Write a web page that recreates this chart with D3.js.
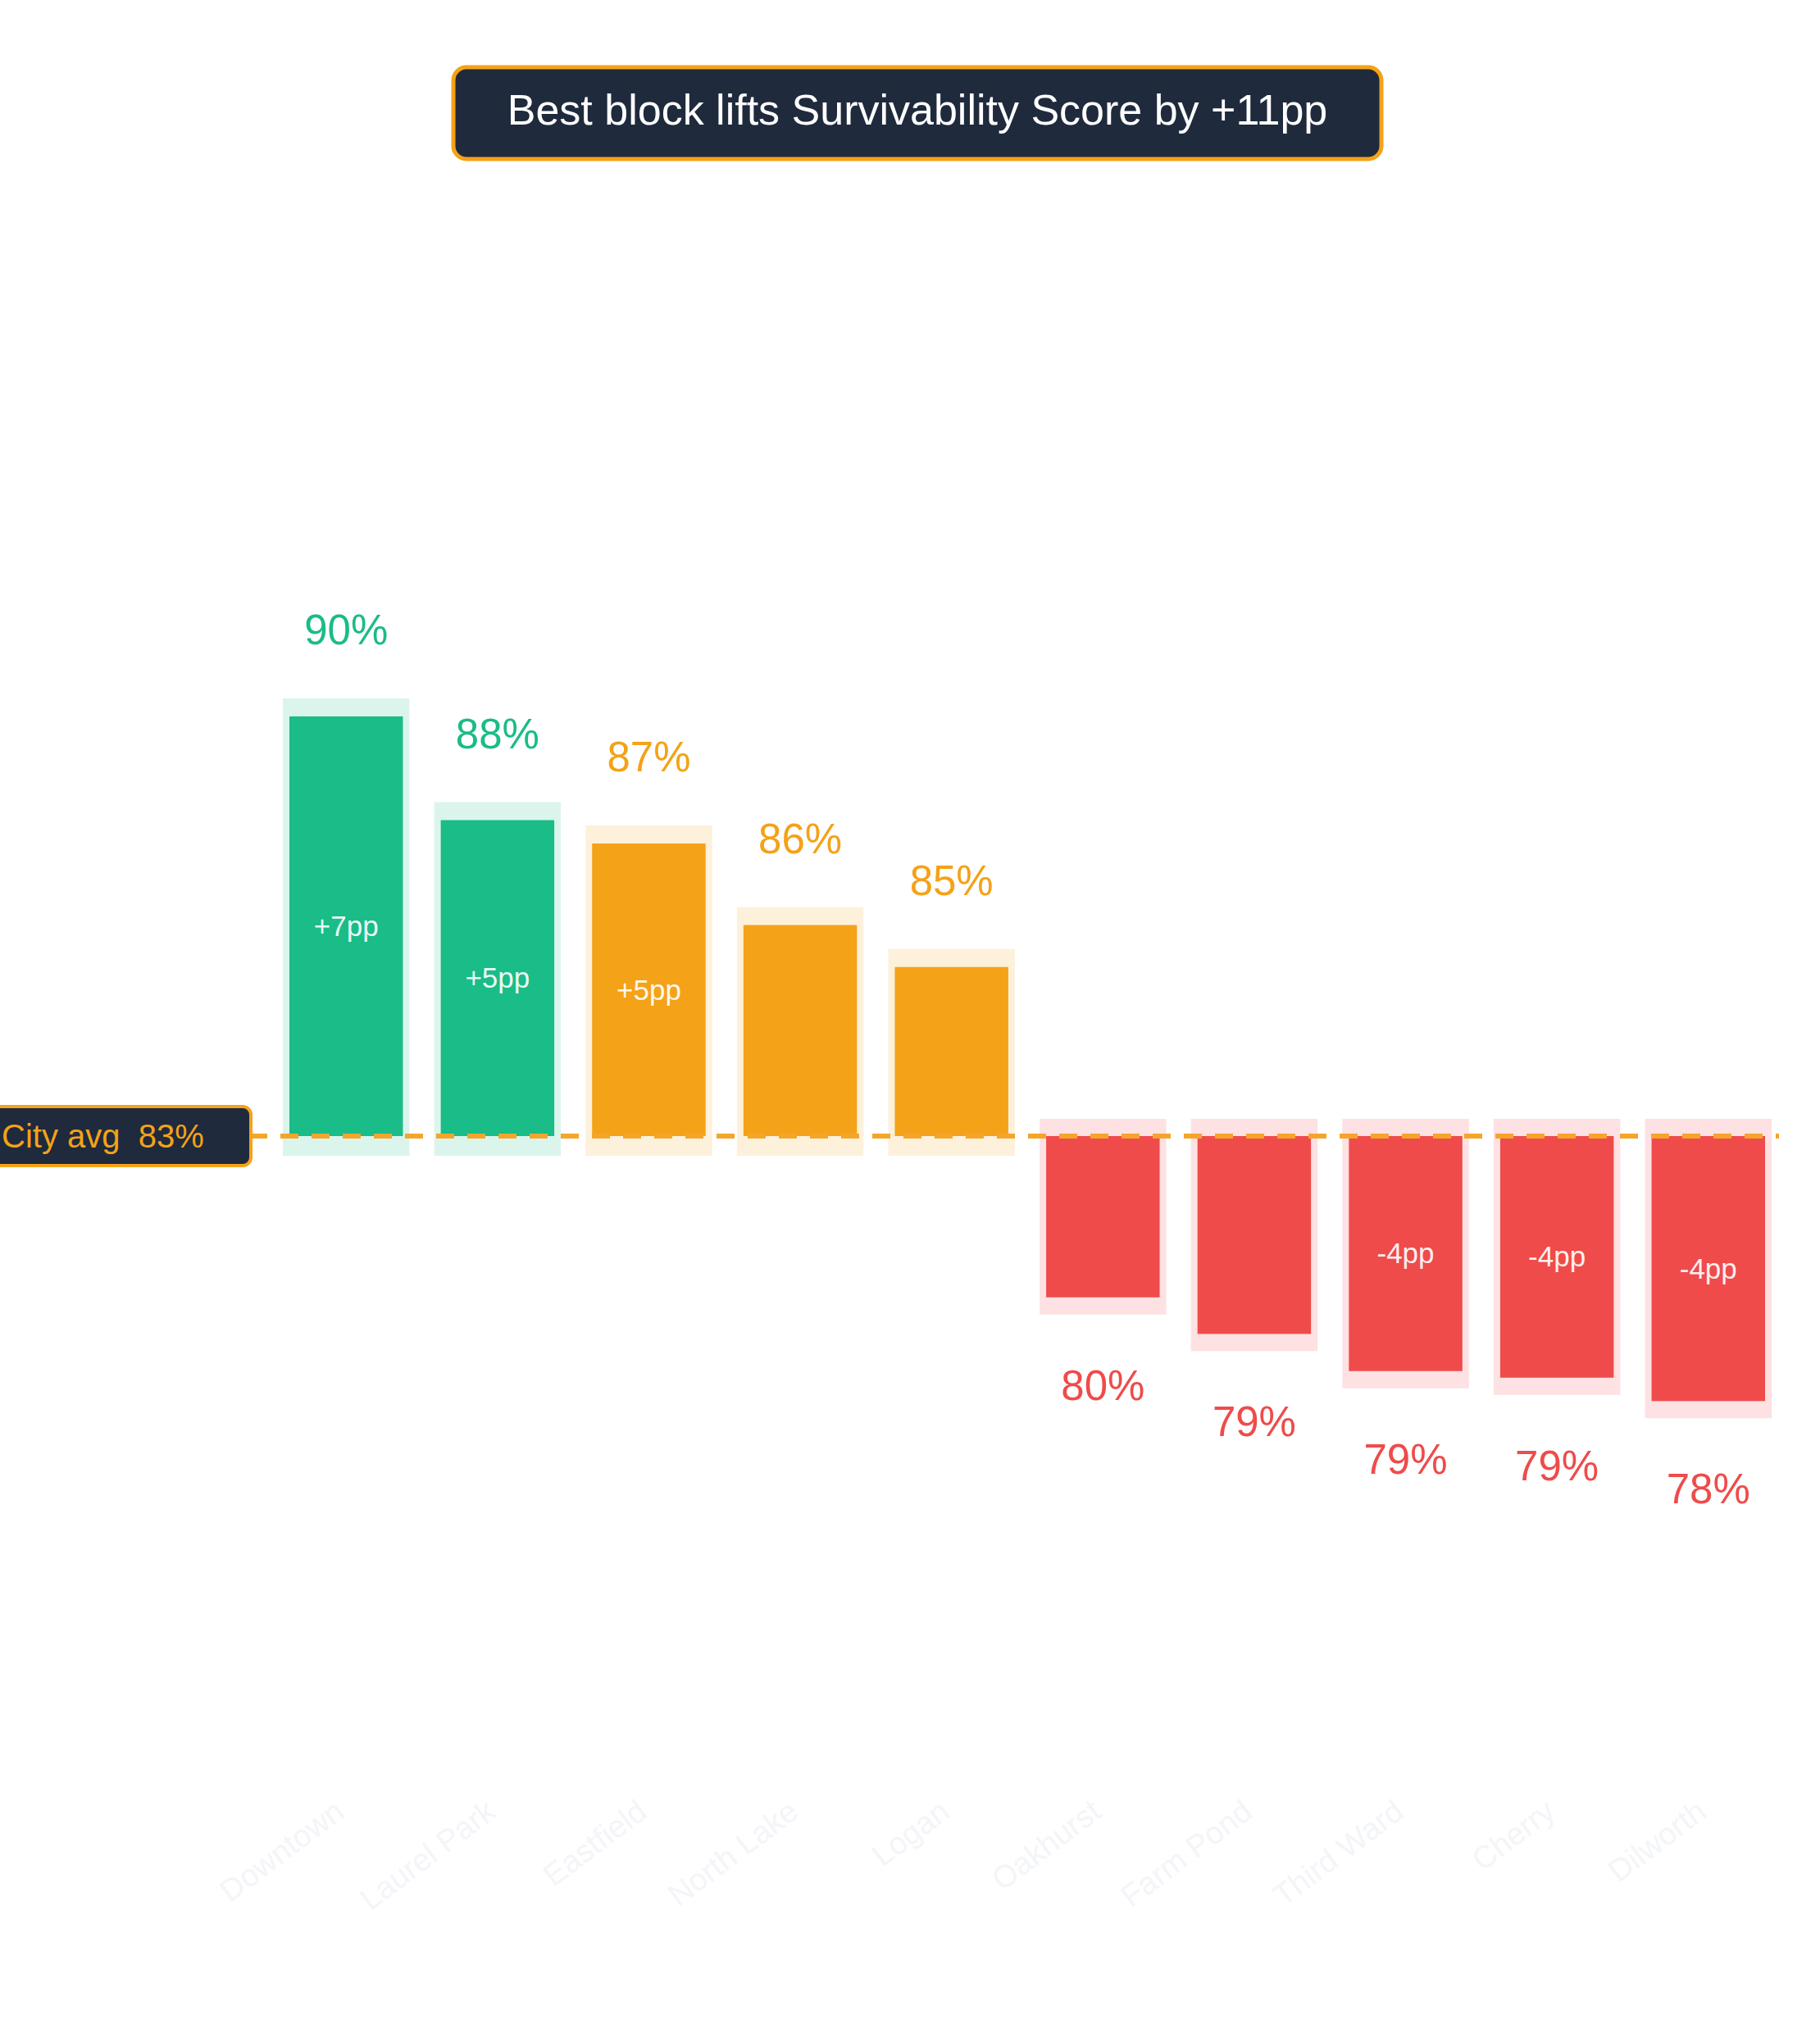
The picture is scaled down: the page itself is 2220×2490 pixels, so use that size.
<!DOCTYPE html>
<html><head><meta charset="utf-8">
<script src="https://cdn.jsdelivr.net/npm/d3@7/dist/d3.min.js"></script>
<style>body{margin:0;background:#fff}svg{display:block;font-family:"Liberation Sans",Arial,Helvetica,sans-serif}</style>
</head><body>
<script>
const categories=["Downtown","Laurel Park","Eastfield","North Lake","Logan","Oakhurst","Farm Pond","Third Ward","Cherry","Dilworth"];
const deltas=[7.0,5.27,4.88,3.52,2.82,-2.69,-3.30,-3.92,-4.03,-4.42];
const scoreLabels=["90%","88%","87%","86%","85%","80%","79%","79%","79%","78%"];
const innerLabels=["+7pp","+5pp","+5pp","","","","","-4pp","-4pp","-4pp"];
const tiers=["high","high","mid","mid","mid","low","low","low","low","low"];
const avgLabel="City avg  83%";
const title="Best block lifts Survivability Score by +11pp";

const W=2220,H=2490;
const colors={high:"#1abc87",mid:"#f4a218",low:"#ef4b4b"};
const light={high:"#dbf5ec",mid:"#fdf1dc",low:"#fde1e3"};
const svg=d3.select("body").append("svg").attr("width",W).attr("height",H);
const x=d3.scaleBand().domain(categories).range([353,2153]).paddingInner(0.5/ (1)).paddingInner(0.25).paddingOuter(0);
const y=d3.scaleLinear().domain([0,7]).range([1386,874]);
const data=categories.map((c,i)=>({c,d:deltas[i],t:tiers[i],s:scoreLabels[i],l:innerLabels[i]}));
const g=svg.append("g");
// background halos
g.selectAll("rect.bg").data(data).join("rect")
 .attr("x",d=>x(d.c)-8).attr("width",x.bandwidth()+16)
 .attr("y",d=>d.d>0?y(d.d)-22:y(0)-21)
 .attr("height",d=>d.d>0?y(0)-y(d.d)+46:y(d.d)-y(0)+42)
 .attr("fill",d=>light[d.t]);
g.selectAll("rect.bar").data(data).join("rect")
 .attr("x",d=>x(d.c)).attr("width",x.bandwidth())
 .attr("y",d=>y(Math.max(0,d.d))).attr("height",d=>Math.abs(y(d.d)-y(0)))
 .attr("fill",d=>colors[d.t]);
// avg line
svg.append("line").attr("x1",0).attr("x2",2170).attr("y1",y(0)).attr("y2",y(0))
 .attr("stroke","#f4a52a").attr("stroke-width",6).attr("stroke-dasharray","22,16");
// score labels
g.selectAll("text.s").data(data).join("text")
 .attr("x",d=>x(d.c)+x.bandwidth()/2)
 .attr("y",d=>d.d>0?y(d.d)-88:y(d.d)+125)
 .attr("text-anchor","middle").attr("font-size",51).attr("fill",d=>colors[d.t]).text(d=>d.s);
g.selectAll("text.l").data(data).join("text")
 .attr("x",d=>x(d.c)+x.bandwidth()/2)
 .attr("y",d=>(y(d.d)+y(0))/2+12)
 .attr("text-anchor","middle").attr("font-size",35).attr("fill","#fff").attr("fill-opacity",0.92).text(d=>d.l);
// x labels
g.selectAll("text.x").data(data).join("text")
 .attr("transform",d=>`translate(${x(d.c)+x.bandwidth()/2},2215) rotate(-37)`)
 .attr("text-anchor","end").attr("font-size",38).attr("fill","#f3f5f8").text(d=>d.c);
// avg label
svg.append("rect").attr("x",-12).attr("y",1350).attr("width",318).attr("height",72).attr("rx",10)
 .attr("fill","#1f2a3c").attr("stroke","#f4a218").attr("stroke-width",4);
svg.append("text").attr("x",2).attr("y",1400).attr("font-size",40).attr("fill","#f4a218").style("white-space","pre").attr("xml:space","preserve").text(avgLabel);
// title
svg.append("rect").attr("x",553).attr("y",82).attr("width",1132).attr("height",112).attr("rx",16)
 .attr("fill","#1f2a3c").attr("stroke","#f4a218").attr("stroke-width",5);
svg.append("text").attr("x",1119).attr("y",152).attr("text-anchor","middle").attr("font-size",52).attr("fill","#fff").text(title);
</script>
</body></html>
